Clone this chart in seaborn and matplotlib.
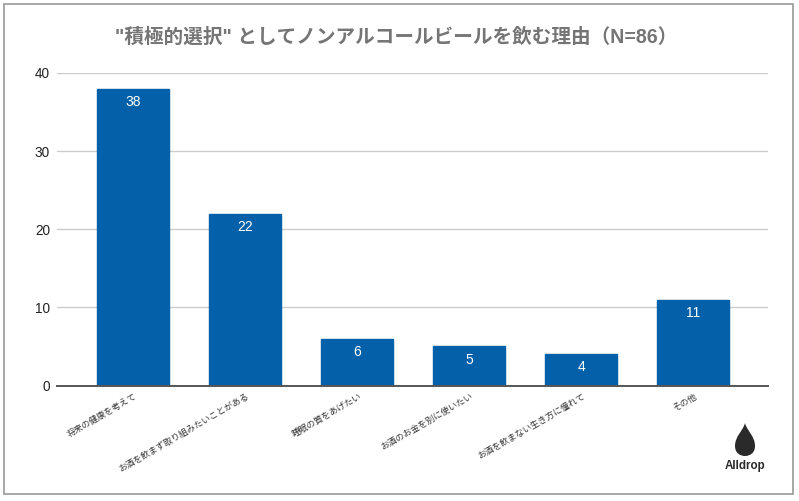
"""Reasons for choosing non-alcoholic beer, as a bar chart."""

import matplotlib
matplotlib.use("Agg")
import matplotlib.pyplot as plt
import pandas as pd
import seaborn as sns
from matplotlib.patches import PathPatch, Rectangle
from matplotlib.path import Path

categories = [
    "将来の健康を考えて",
    "お酒を飲まず取り組みたいことがある",
    "睡眠の質をあげたい",
    "お酒のお金を別に使いたい",
    "お酒を飲まない生き方に憧れて",
    "その他",
]
counts = [38, 22, 6, 5, 4, 11]
y_ticks = [0, 10, 20, 30, 40]

W, H = 799, 501
BAR_COLOR = "#0460a8"

sns.set_theme(style="white")
plt.rcParams["font.family"] = ["Liberation Sans", "Noto Sans CJK JP", "DejaVu Sans"]

fig = plt.figure(figsize=(W / 100, H / 100), dpi=100)
ax = fig.add_axes([57 / W, 1 - 385.5 / H, 711 / W, 312.5 / H])

df = pd.DataFrame({"reason": categories, "count": counts})
sns.barplot(data=df, x="reason", y="count", color=BAR_COLOR, saturation=1,
            width=72 / 112, edgecolor=BAR_COLOR, linewidth=1, ax=ax, zorder=3)

ax.set_xlim(-0.68, 5.67)
ax.set_ylim(0, 40)
ax.set_xlabel("")
ax.set_ylabel("")
ax.set_yticks(y_ticks)
ax.tick_params(axis="y", labelsize=9.8, labelcolor="#222222", length=0, pad=5)
ax.tick_params(axis="x", length=0, pad=0)
ax.set_xticks(range(len(categories)))
ax.set_xticklabels(categories, rotation=30, ha="right", rotation_mode="anchor",
                   fontsize=6.3, color="#333333")

# shift each label so it ends just under its bar centre
for lab in ax.get_xticklabels():
    lab.set_transform(lab.get_transform() + matplotlib.transforms.ScaledTranslation(
        1 / 100, -6.5 / 100, fig.dpi_scale_trans))

ax.grid(axis="y", color="#cccccc", lw=1, zorder=0)
ax.set_axisbelow(True)
for side in ["top", "right", "left"]:
    ax.spines[side].set_visible(False)
ax.spines["bottom"].set_color("#555555")
ax.spines["bottom"].set_linewidth(1.4)
ax.spines["bottom"].set_zorder(5)

for container in ax.containers:
    ax.bar_label(container, label_type="edge", padding=-14.5, color="white", fontsize=10)

fig.text(396 / W, 1 - 37 / H, '"積極的選択" としてノンアルコールビールを飲む理由（N=86）',
         ha="center", va="center", fontsize=14.1, fontweight="bold", color="#757575")

# outer frame of the screenshot
fig.add_artist(Rectangle((3.5 / W, 1 - 493.5 / H), 789 / W, 489.5 / H, transform=fig.transFigure,
                         fill=False, edgecolor="#a0a0a0", lw=1.3))

# Alldrop logo
cx, top, bot, hw = 745, 423, 456, 10
drop = [(cx, top), (cx - 2, top + 8), (cx - hw, top + 13), (cx - hw, top + 23),
        (cx - hw, bot - 3), (cx - 5, bot), (cx, bot),
        (cx + 5, bot), (cx + hw, bot - 3), (cx + hw, top + 23),
        (cx + hw, top + 13), (cx + 2, top + 8), (cx, top)]
codes = [Path.MOVETO] + [Path.CURVE4] * 12
verts = [(x / W, 1 - y / H) for x, y in drop]
fig.add_artist(PathPatch(Path(verts, codes), transform=fig.transFigure, fc="#2a2a2a", ec="none"))
fig.text(745.5 / W, 1 - 466 / H, "Alldrop", ha="center", va="center",
         fontsize=8.4, fontweight="bold", color="#2a2a2a")

fig.savefig("out.png", dpi=100)
